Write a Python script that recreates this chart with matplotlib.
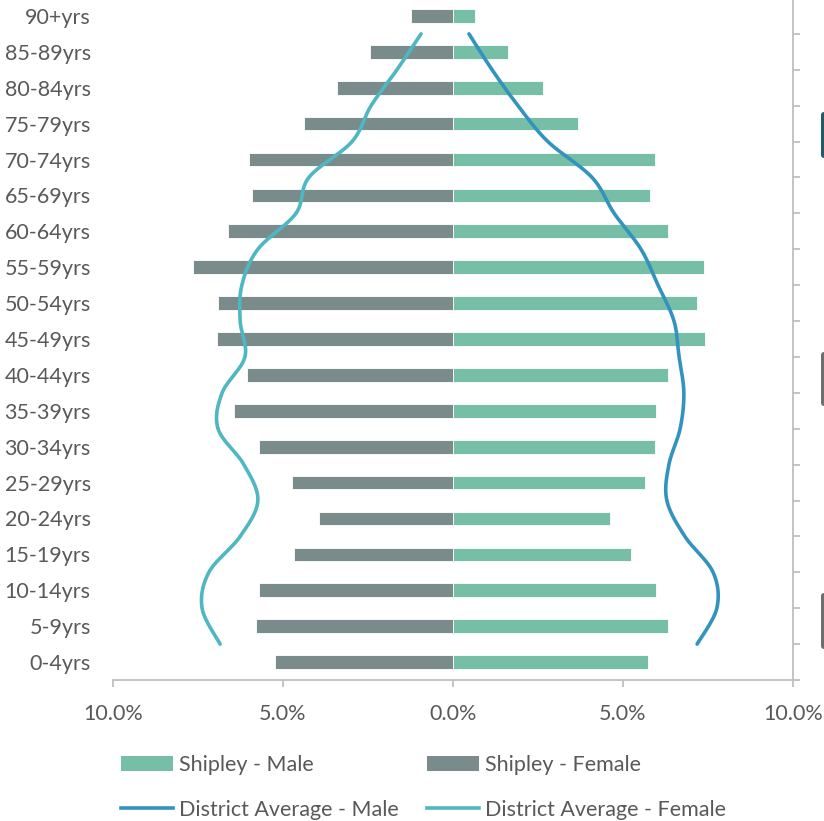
import matplotlib
matplotlib.use("Agg")
import matplotlib.pyplot as plt
from matplotlib.patches import FancyBboxPatch
from matplotlib.lines import Line2D
from matplotlib.patches import Patch
import numpy as np

# ── data ────────────────────────────────────────────────────────────
age_groups = ["0-4yrs", "5-9yrs", "10-14yrs", "15-19yrs", "20-24yrs", "25-29yrs",
              "30-34yrs", "35-39yrs", "40-44yrs", "45-49yrs", "50-54yrs", "55-59yrs",
              "60-64yrs", "65-69yrs", "70-74yrs", "75-79yrs", "80-84yrs", "85-89yrs",
              "90+yrs"]

shipley_male = [5.74, 6.32, 5.97, 5.24, 4.62, 5.65, 5.94, 5.97, 6.32, 7.41,
                7.18, 7.38, 6.32, 5.79, 5.94, 3.68, 2.65, 1.62, 0.65]
shipley_female = [5.24, 5.79, 5.71, 4.68, 3.94, 4.74, 5.71, 6.44, 6.06, 6.94,
                  6.91, 7.65, 6.62, 5.91, 6.00, 4.38, 3.41, 2.44, 1.24]

# district averages (scatter series on secondary axis, points 1..18)
district_male = [7.18, 7.76, 7.65, 6.82, 6.29, 6.35, 6.68, 6.79, 6.65, 6.50,
                 6.03, 5.53, 4.74, 4.09, 2.79, 1.91, 1.15, 0.47]
district_female = [6.85, 7.38, 7.18, 6.26, 5.74, 6.15, 6.91, 6.79, 6.12, 6.26,
                   6.21, 5.74, 4.62, 4.24, 2.97, 2.41, 1.65, 0.94]

# ── colours ─────────────────────────────────────────────────────────
MALE_BAR = "#76BEA5"
FEMALE_BAR = "#7A8B8C"
MALE_LINE = "#3294BE"
FEMALE_LINE = "#4EB7C2"
TEXT = "#595959"
AXIS = "#BFBFBF"
FS = 15.5

plt.rcParams["font.family"] = ["Lato", "DejaVu Sans"]


def catmull_rom(x, y, n=30):
    pts = np.column_stack([x, y])
    pts = np.vstack([pts[0], pts, pts[-1]])
    out = []
    t = np.linspace(0, 1, n)[:, None]
    for i in range(1, len(pts) - 2):
        p0, p1, p2, p3 = pts[i - 1], pts[i], pts[i + 1], pts[i + 2]
        seg = 0.5 * ((2 * p1) + (-p0 + p2) * t + (2 * p0 - 5 * p1 + 4 * p2 - p3) * t ** 2
                     + (-p0 + 3 * p1 - 3 * p2 + p3) * t ** 3)
        out.append(seg)
    out = np.vstack(out)
    return out[:, 0], out[:, 1]


W, H = 824, 821
fig = plt.figure(figsize=(W / 100, H / 100), dpi=100)
L, R, B, T = 113, 793, 680, -2
ax = fig.add_axes([L / W, (H - B) / H, (R - L) / W, (B - T) / H])

n = len(shipley_male)
ypos = np.arange(n)
ax.barh(ypos, shipley_male, height=0.38, color=MALE_BAR, edgecolor="white",
        linewidth=0.6, zorder=2)
ax.barh(ypos, [-v for v in shipley_female], height=0.38, color=FEMALE_BAR,
        edgecolor="white", linewidth=0.6, zorder=2)

ax.set_xlim(-10, 10)
ax.set_ylim(-0.5, n - 0.5)
ax.set_yticks(ypos)
ax.set_yticklabels(age_groups, fontsize=FS, color=TEXT)
ax.tick_params(axis="y", length=0, pad=16)
ax.set_xticks([-10, -5, 0, 5, 10])
ax.set_xticklabels(["10.0%", "5.0%", "0.0%", "5.0%", "10.0%"], fontsize=FS, color=TEXT)
ax.tick_params(axis="x", length=5, width=1.3, color=AXIS, pad=12)
for s in ["top", "left", "right"]:
    ax.spines[s].set_visible(False)
ax.spines["bottom"].set_color(AXIS)
ax.spines["bottom"].set_linewidth(1.3)

# secondary axis for district lines
ax2 = ax.twinx()
ax2.set_ylim(0, 19)
ax2.set_xlim(-10, 10)
ax2.set_yticks(np.arange(0, 20))
ax2.set_yticklabels([])
ax2.tick_params(axis="y", length=5, width=1.3, color=AXIS, direction="out")
for s in ["top", "left", "bottom"]:
    ax2.spines[s].set_visible(False)
ax2.spines["right"].set_color(AXIS)
ax2.spines["right"].set_linewidth(1.3)

yl = np.arange(1, len(district_male) + 1)
mx, my = catmull_rom(np.array(district_male), yl)
fx, fy = catmull_rom(-np.array(district_female), yl)
ax2.plot(mx, my, color=MALE_LINE, lw=2.6, solid_capstyle="round", zorder=3)
ax2.plot(fx, fy, color=FEMALE_LINE, lw=2.6, solid_capstyle="round", zorder=3)

# clipped shapes at right edge
for (y0, y1, c) in [(112, 158, "#1F5C6B"), (352, 406, "#6E6E6E"), (593, 649, "#6E6E6E")]:
    fig.patches.append(FancyBboxPatch((821 / W, (H - y1) / H), 20 / W, (y1 - y0) / H,
                                      boxstyle="round,pad=0,rounding_size=0.004",
                                      transform=fig.transFigure, facecolor=c,
                                      edgecolor="none"))

handles = [Patch(facecolor=MALE_BAR), Line2D([], [], color=MALE_LINE, lw=2.6),
           Patch(facecolor=FEMALE_BAR), Line2D([], [], color=FEMALE_LINE, lw=2.6)]
labels = ["Shipley - Male", "District Average - Male",
          "Shipley - Female", "District Average - Female"]
leg = fig.legend(handles, labels, ncol=2, loc="upper left",
                 bbox_to_anchor=(121 / W, (H - 755) / H), frameon=False,
                 fontsize=FS, handlelength=2.4, handleheight=0.65, handletextpad=0.3,
                 columnspacing=1.3, labelspacing=1.15, borderpad=0, borderaxespad=0)
for t in leg.get_texts():
    t.set_color(TEXT)

fig.savefig("out.png", dpi=100)
